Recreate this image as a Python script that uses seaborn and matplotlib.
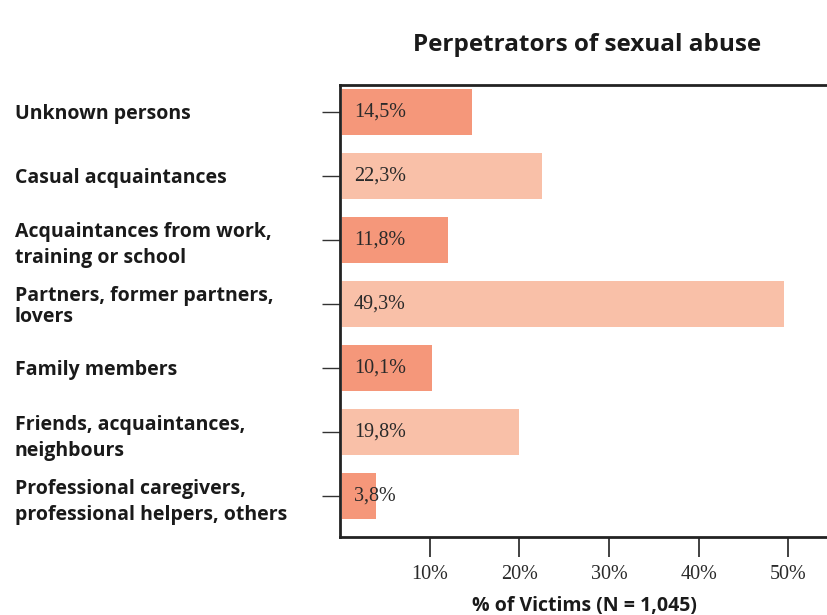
import matplotlib
matplotlib.use("Agg")
import matplotlib.pyplot as plt
import matplotlib.transforms as mtrans
import seaborn as sns
import pandas as pd

# chart data
categories = [
    "Unknown persons",
    "Casual acquaintances",
    "Acquaintances from work,\ntraining or school",
    "Partners, former partners,\nlovers",
    "Family members",
    "Friends, acquaintances,\nneighbours",
    "Professional caregivers,\nprofessional helpers, others",
]
values = [14.5, 22.3, 11.8, 49.3, 10.1, 19.8, 3.8]
value_labels = ["14,5%", "22,3%", "11,8%", "49,3%", "10,1%", "19,8%", "3,8%"]
xticks = [10, 20, 30, 40, 50]
xtick_labels = ["10%", "20%", "30%", "40%", "50%"]

dark = "#F5977A"
light = "#F9C0A8"
colors = [dark if i % 2 == 0 else light for i in range(len(categories))]
serif = ["Liberation Serif", "DejaVu Serif"]

df = pd.DataFrame({"cat": categories, "val": values})

sns.set_style("white")
plt.rcParams["font.family"] = ["Open Sans", "DejaVu Sans"]

fig = plt.figure(figsize=(8.28, 6.15), dpi=100)
ax = fig.add_axes([340 / 828, 1 - 537 / 615, 1 - 340 / 828 + 0.002, (537 - 85) / 615])

sns.barplot(data=df, x="val", y="cat", hue="cat", palette=colors,
            legend=False, width=0.72, saturation=1, ax=ax, linewidth=0)

# shift bars a touch off the spine
for p in ax.patches:
    p.set_x(0.2)

for i, lab in enumerate(value_labels):
    ax.text(1.55, i, lab, va="center", ha="left", fontsize=14.5,
            family=serif, color="#2a2a2a")

ax.set_xlim(0, 54.6)
ax.set_ylim(6.64, -0.42)

ax.set_xticks(xticks)
ax.set_xticklabels(xtick_labels, family=serif, fontsize=14.5, color="#2a2a2a")
ax.tick_params(axis="x", bottom=True, direction="out", length=14.5, width=1.3,
               color="#333333", pad=6)
ax.tick_params(axis="y", left=True, direction="out", length=13, width=1.0,
               color="#333333", pad=0)

ax.set_yticks(range(len(categories)))
ax.set_yticklabels(categories, fontsize=14, fontweight="bold", color="#1a1a1a",
                   ha="left", linespacing=1.4)
tr = mtrans.blended_transform_factory(fig.transFigure, ax.transData)
for t in ax.get_yticklabels():
    t.set_transform(tr)
    t.set_x(15 / 828)
    if t.get_text().startswith("Partners"):
        t.set_linespacing(1.05)

for s in ["left", "top", "bottom", "right"]:
    ax.spines[s].set_color("#222222")
    ax.spines[s].set_linewidth(2)
ax.spines["right"].set_visible(False)

ax.set_ylabel("")
ax.set_xlabel("% of Victims (N = 1,045)", fontsize=14, fontweight="bold",
              color="#1a1a1a", labelpad=8)

fig.text(587 / 828, 1 - 45 / 615, "Perpetrators of sexual abuse", ha="center",
         va="center", fontsize=17.5, fontweight="bold", color="#1a1a1a")

fig.savefig("out.png", dpi=100)
